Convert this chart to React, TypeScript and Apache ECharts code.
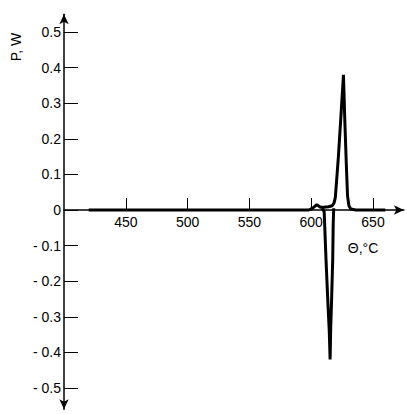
import React, { useEffect, useRef } from "react";
import * as echarts from "echarts";

// tick values
const xTicks = [450, 500, 550, 600, 650];
const yTicks = [-0.5, -0.4, -0.3, -0.2, -0.1, 0, 0.1, 0.2, 0.3, 0.4, 0.5];

// main trace: baseline, small bump and positive (exothermic) peak
const mainTemp = [420, 460, 500, 540, 580, 598, 601.5, 604.5, 607.5, 610, 614, 617, 618.5, 619.5, 620.5, 622, 624, 626.1, 627.2, 628.5, 629.4, 630.5, 632, 636, 660];
const mainPower = [0, 0, 0, 0, 0, 0, 0.006, 0.015, 0.008, 0.008, 0.009, 0.012, 0.02, 0.035, 0.08, 0.15, 0.26, 0.38, 0.25, 0.12, 0.04, 0.012, 0.003, 0, 0];

// negative (endothermic) spike
const spikeTemp = [609, 610.5, 612, 613.5, 614.6, 615.3, 615.8, 616.6, 617.4, 617.8, 618.2];
const spikePower = [0.005, -0.005, -0.14, -0.26, -0.34, -0.42, -0.33, -0.24, -0.14, -0.04, 0.005];

const FONT = "Liberation Sans";

export default function App() {
  const ref = useRef<HTMLDivElement>(null);
  useEffect(() => {
    if (!ref.current) return;
    const chart = echarts.init(ref.current, null, { renderer: "svg" });
    const pxPerDeg = 1.236;
    const xMin = 400;
    const xMax = 675;
    const pxPerUnit = 356;
    const yMax = 0.55;
    const yMin = -0.56;
    const left = 64;
    const top = 32 - (yMax - 0.5) * pxPerUnit;
    const height = (yMax - yMin) * pxPerUnit;
    const zeroOffset = -(-yMin * pxPerUnit); // distance from grid bottom to zero line
    chart.setOption({
      animation: false,
      backgroundColor: "#ffffff",
      grid: {
        left,
        top,
        width: (xMax - xMin) * pxPerDeg,
        height,
        containLabel: false,
        outerBoundsMode: "none",
      },
      xAxis: {
        type: "value",
        min: xMin,
        max: xMax,
        position: "bottom",
        offset: zeroOffset,
        axisLine: {
          show: true,
          onZero: false,
          symbol: ["none", "arrow"],
          symbolSize: [7, 10],
          lineStyle: { color: "#000", width: 1.5 },
        },
        axisTick: {
          show: true,
          inside: true,
          length: 12,
          customValues: xTicks,
          lineStyle: { color: "#000", width: 1 },
        },
        axisLabel: {
          show: true,
          customValues: xTicks,
          margin: 5,
          color: "#000",
          fontSize: 14,
          fontFamily: FONT,
        },
        splitLine: { show: false },
      },
      yAxis: {
        type: "value",
        min: yMin,
        max: yMax,
        axisLine: {
          show: true,
          onZero: false,
          symbol: ["arrow", "arrow"],
          symbolSize: [7, 10],
          lineStyle: { color: "#000", width: 1.5 },
        },
        axisTick: {
          show: true,
          inside: true,
          length: 14,
          customValues: yTicks,
          lineStyle: { color: "#000", width: 1 },
        },
        axisLabel: {
          show: true,
          customValues: yTicks,
          margin: 3,
          color: "#000",
          fontSize: 14,
          fontFamily: FONT,
          formatter: (v: number) => (Math.abs(v) < 1e-9 ? "0" : v < 0 ? "- " + Math.abs(v).toFixed(1) : v.toFixed(1)),
        },
        splitLine: { show: false },
      },
      graphic: [
        {
          type: "text",
          x: 363,
          y: 248,
          style: {
            text: "Θ,°C",
            fontSize: 14,
            fontFamily: FONT,
            fill: "#000",
            align: "center",
            verticalAlign: "middle",
          },
        },
        {
          type: "text",
          x: 16,
          y: 47,
          rotation: Math.PI / 2,
          style: {
            text: "P, W",
            fontSize: 14,
            fontFamily: FONT,
            fill: "#000",
            align: "center",
            verticalAlign: "middle",
          },
        },
      ],
      series: [
        {
          type: "line",
          data: mainTemp.map((t, i) => [t, mainPower[i]]),
          showSymbol: false,
          symbol: "none",
          lineStyle: { color: "#000", width: 3 },
          z: 5,
        },
        {
          type: "line",
          data: spikeTemp.map((t, i) => [t, spikePower[i]]),
          showSymbol: false,
          symbol: "none",
          lineStyle: { color: "#000", width: 3 },
          z: 5,
        },
      ],
    });
    return () => chart.dispose();
  }, []);
  return <div ref={ref} style={{ position: "fixed", left: 0, top: 0, width: 407, height: 415 }} />;
}
